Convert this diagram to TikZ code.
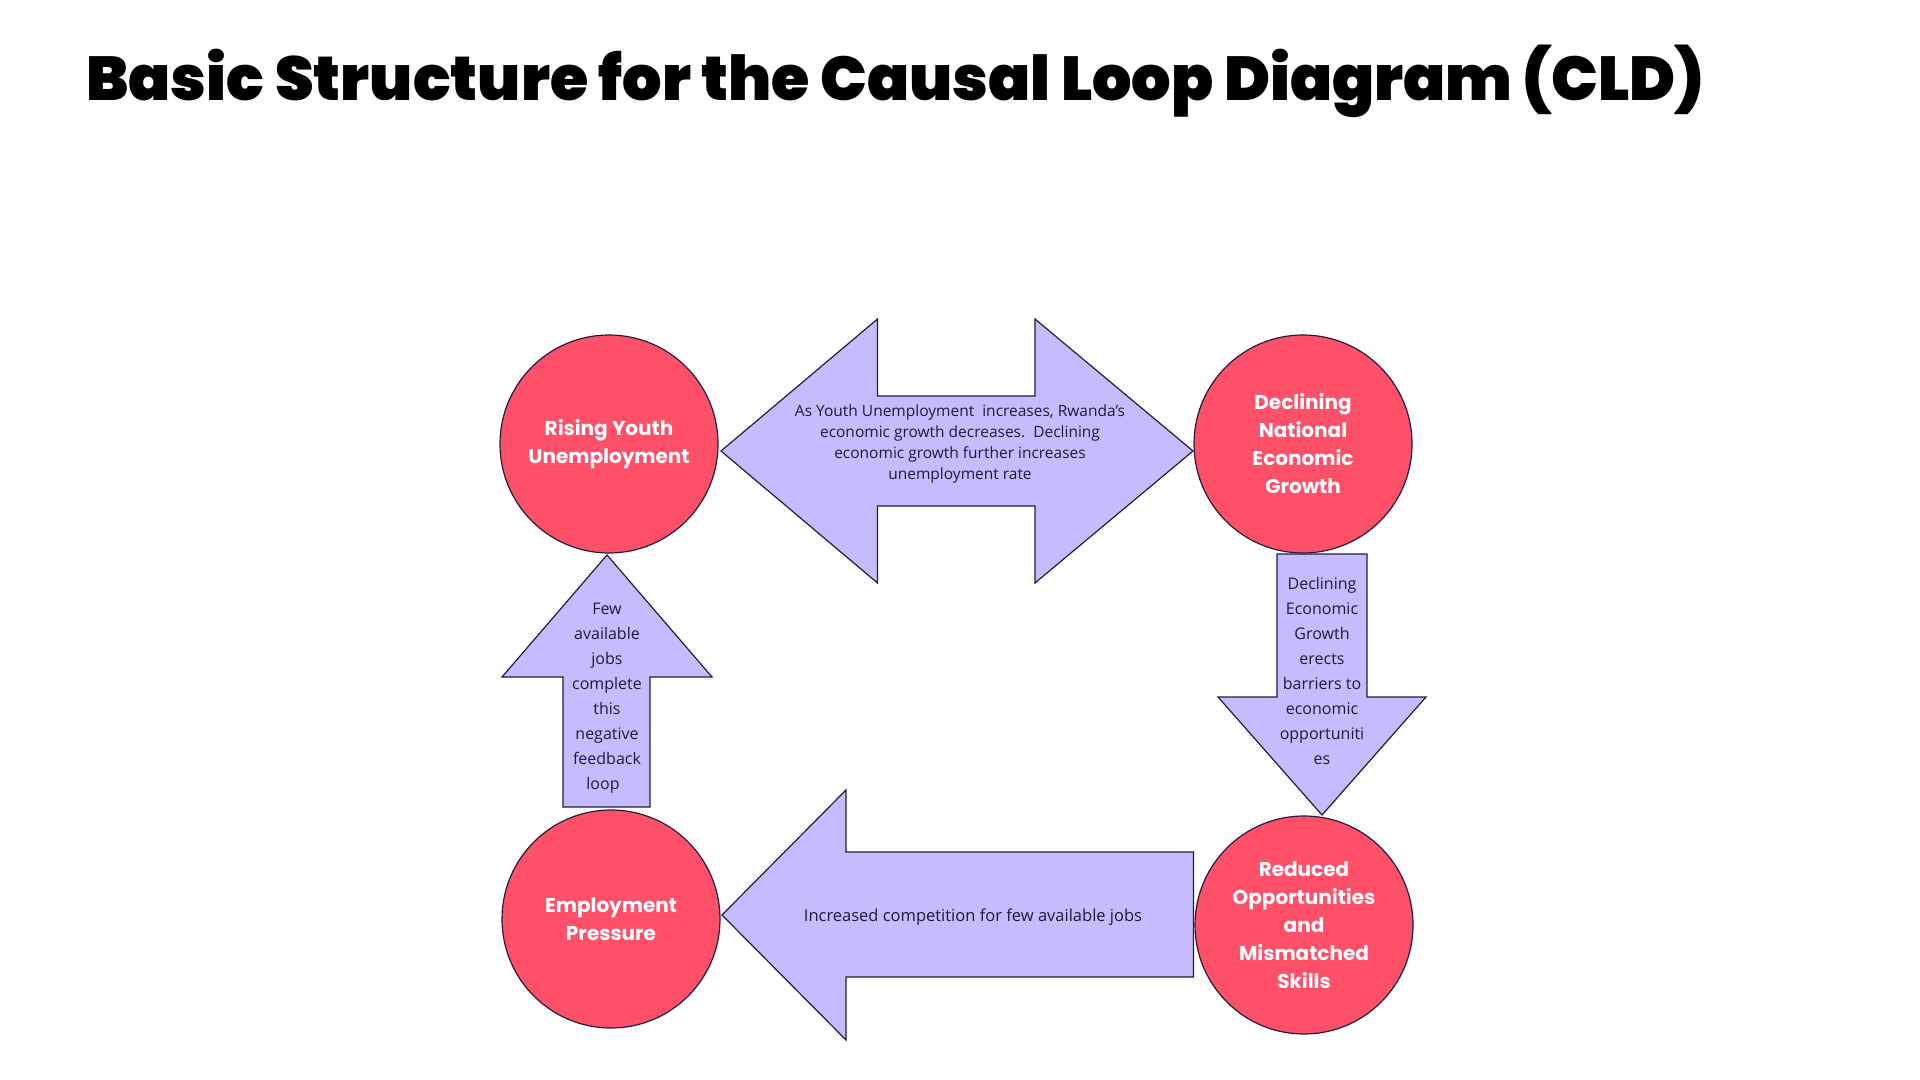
\documentclass[tikz,border=0pt]{standalone}
\usepackage{fontspec}
\setmainfont{Open Sans}
\newfontfamily\headfont{Poppins}
\newfontfamily\titlefont{Poppins Black}
\definecolor{circred}{HTML}{FF506A}
\definecolor{lav}{HTML}{C6BBFE}
\definecolor{txtdark}{HTML}{1E1B3A}
\definecolor{edge}{HTML}{241C3A}
\begin{document}
\begin{tikzpicture}[x=0.5pt,y=-0.5pt,
  circ/.style={circle,draw=edge,line width=0.6pt,fill=circred,minimum size=109pt,inner sep=0pt,
    text=white,align=center,font=\headfont\bfseries\fontsize{10}{14}\selectfont},
  arrowshape/.style={draw=edge,line width=0.6pt,fill=lav,line join=miter},
  arrtext/.style={align=center,text=txtdark,inner sep=0pt,font=\fontsize{8}{12.5}\selectfont},
  dbltext/.style={align=center,text=txtdark,inner sep=0pt,font=\fontsize{7.75}{10.5}\selectfont}]
\useasboundingbox (0,0) rectangle (1920,1080);
\fill[white] (0,0) rectangle (1920,1080);
% title
\node[anchor=base west,inner sep=0pt,font=\titlefont\fontsize{31}{36}\selectfont] (title) at (86,101)
  {Basic Structure for the Causal Loop Diagram (CLD)};
% double arrow (top)
\draw[arrowshape] (721,451) -- (877.5,319) -- (877.5,396) -- (1035,396) -- (1035,319) -- (1193,451)
  -- (1035,583) -- (1035,506) -- (877.5,506) -- (877.5,583) -- cycle;
\node[dbltext] (t1) at (960,444) {As Youth Unemployment\ \ increases, Rwanda’s\\economic growth decreases.\ \ Declining\\economic growth further increases\\unemployment rate};
% down arrow (right)
\draw[arrowshape] (1277,554) -- (1367,554) -- (1367,697) -- (1426,697) -- (1322,815) -- (1218,697) -- (1277,697) -- cycle;
\node[arrtext] (t2) at (1322,670.5) {Declining\\Economic\\Growth\\erects\\barriers to\\economic\\opportuniti\\es};
% left arrow (bottom)
\draw[arrowshape] (722,915) -- (846,790) -- (846,852) -- (1193.5,852) -- (1193.5,977) -- (846,977) -- (846,1040) -- cycle;
\node[arrtext,font=\fontsize{8.25}{12.5}\selectfont] (t3) at (973,917) {Increased competition for few available jobs};
% up arrow (left)
\draw[arrowshape] (607,555) -- (712,677) -- (650,677) -- (650,807) -- (563,807) -- (563,677) -- (502,677) -- cycle;
\node[arrtext] (t4) at (607,698.5) {Few\\available\\jobs\\complete\\this\\negative\\feedback\\loop\hspace*{4pt}};
% circles
\node[circ] (c1) at (609,444) {Rising Youth\\Unemployment};
\node[circ] (c2) at (1303,444) {Declining\\National\\Economic\\Growth};
\node[circ] (c3) at (611,919) {Employment\\Pressure};
\node[circ] (c4) at (1304,925) {Reduced\\Opportunities\\and\\Mismatched\\Skills};
\end{tikzpicture}
\end{document}
